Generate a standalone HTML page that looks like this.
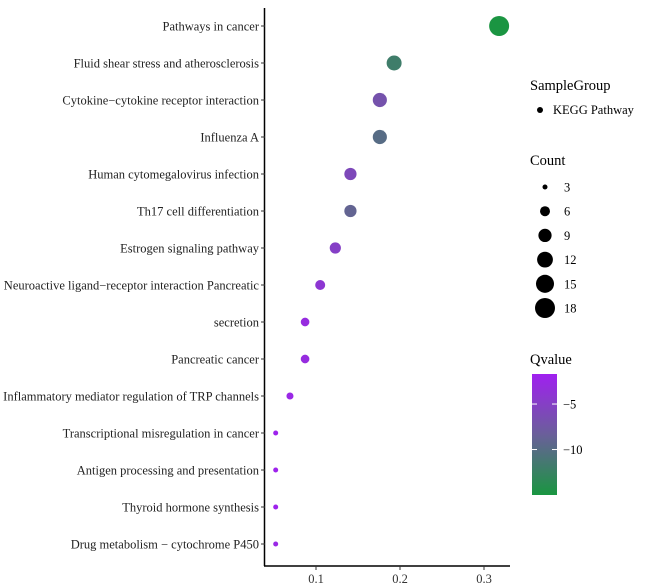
<!DOCTYPE html>
<html><head><meta charset="utf-8"><style>
body{margin:0;background:#fff}
svg{display:block;font-family:"Liberation Serif",serif}
</style></head><body>
<svg id="chart" width="652" height="587">
<defs><linearGradient id="qg" x1="0" y1="0" x2="0" y2="1">
<stop offset="0" stop-color="#a020f0"/><stop offset="0.5" stop-color="#6a5f9a"/><stop offset="1" stop-color="#1a9641"/></linearGradient></defs>
<g id="plot"></g>
<g id="legend">
<text x="530" y="90" font-size="14.5">SampleGroup</text>
<circle cx="540" cy="110" r="3" fill="#000"/>
<text x="553" y="114" font-size="12.5">KEGG Pathway</text>
<text x="530" y="165" font-size="14.5">Count</text>
<text x="530" y="364" font-size="14.5">Qvalue</text>
<rect x="532" y="374" width="25" height="121" fill="url(#qg)"/>
</g>
</svg>
<script>
const pathways=["Pathways in cancer","Fluid shear stress and atherosclerosis","Cytokine\u2212cytokine receptor interaction","Influenza A","Human cytomegalovirus infection","Th17 cell differentiation","Estrogen signaling pathway","Neuroactive ligand\u2212receptor interaction Pancreatic","secretion","Pancreatic cancer","Inflammatory mediator regulation of TRP channels","Transcriptional misregulation in cancer","Antigen processing and presentation","Thyroid hormone synthesis","Drug metabolism \u2212 cytochrome P450"];
const richFactor=[0.318,0.193,0.176,0.176,0.141,0.141,0.123,0.105,0.087,0.087,0.069,0.052,0.052,0.052,0.052];
const counts=[18,11,10,10,8,8,7,6,5,5,4,3,3,3,3];
const qvalues=[-15,-12,-7,-10,-6,-9,-5,-4,-3,-3,-2.5,-2,-2,-2,-2.5];
const xTicks=[0.1,0.2,0.3];
const countLegend=[3,6,9,12,15,18];
const qTicks=[-5,-10];
const NS="http://www.w3.org/2000/svg";
function X(v){return 232+v*840;}
function Y(i){return 26+i*37;}
function R(c){return Math.sqrt(6.25+(c-3)/15*93.75);}
function qY(q){return 374+(-1.7-q)*9.1;}
function lerp(a,b,t){return a.map((v,i)=>Math.round(v+(b[i]-v)*t));}
function col(q){let t=Math.min(1,Math.max(0,(-1.7-q)/13.4));const p=[160,32,240],m=[106,95,154],g=[26,150,65];
const c=t<0.5?lerp(p,m,t*2):lerp(m,g,(t-0.5)*2);return `rgb(${c.join(',')})`;}
function mk(tag,attrs,parent,text){const e=document.createElementNS(NS,tag);for(const k in attrs)e.setAttribute(k,attrs[k]);if(text!==undefined)e.textContent=text;parent.appendChild(e);return e;}
const plot=document.getElementById('plot'),leg=document.getElementById('legend');
let ax=mk('line',{x1:264.5,y1:8,x2:264.5,y2:566,stroke:'#000','stroke-width':1.5},plot);


ax=mk('line',{x1:264,y1:566,x2:510,y2:566,stroke:'#000','stroke-width':1.5},plot);


pathways.forEach((p,i)=>{
 const t=mk('text',{x:259,y:Y(i)+4.5,'font-size':12.5,'text-anchor':'end',fill:'#222'},plot,p);
 
 
 mk('line',{x1:261,y1:Y(i),x2:265,y2:Y(i),stroke:'#333'},plot);
 const c=mk('circle',{cx:X(richFactor[i]),cy:Y(i),r:R(counts[i]),fill:col(qvalues[i])},plot);
 
 
});
xTicks.forEach(v=>{
 mk('line',{x1:X(v),y1:566,x2:X(v),y2:570,stroke:'#333'},plot);
 const t=mk('text',{x:X(v),y:583,'font-size':12.5,'text-anchor':'middle',fill:'#333'},plot,String(v));
 
 
});
countLegend.forEach((c,i)=>{
 const y=187+i*24.2;
 const d=mk('circle',{cx:545,cy:y,r:R(c),fill:'#000'},leg);
 
 
 const t=mk('text',{x:564,y:y+4.5,'font-size':12.5},leg,String(c));
 
 
});
qTicks.forEach(q=>{
 const y=qY(q);
 mk('line',{x1:532,y1:y,x2:537,y2:y,stroke:'#fff'},leg);
 mk('line',{x1:552,y1:y,x2:557,y2:y,stroke:'#fff'},leg);
 const t=mk('text',{x:563,y:y+4.5,'font-size':12.5},leg,'\u2212'+Math.abs(q));
 
 
});
</script>
</body></html>
